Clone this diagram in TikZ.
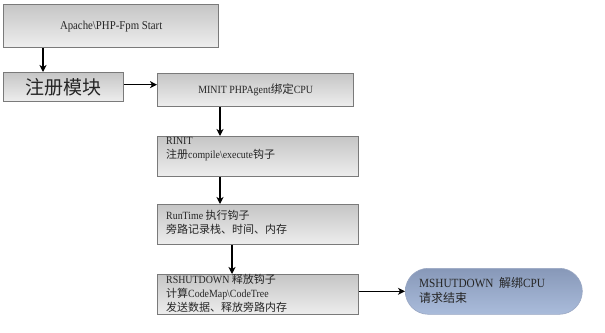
\documentclass[tikz,border=0pt]{standalone}
\usepackage{fontspec}
\setmainfont{Liberation Serif}[FakeStretch=0.9]
\newfontfamily\cjk{Noto Sans CJK SC}
\usetikzlibrary{arrows.meta,calc}
\definecolor{txt}{HTML}{262626}
\definecolor{bord}{HTML}{7A7A7A}
\definecolor{gtop}{HTML}{C6C6C6}
\definecolor{gbot}{HTML}{EEEEEE}
\definecolor{btop}{HTML}{8798B8}
\definecolor{bbot}{HTML}{AABCDB}
\tikzset{
  box/.style={draw=bord,line width=1.3pt,top color=gtop,bottom color=gbot,
    anchor=north west,inner sep=0pt,text=txt},
  lbl/.style={anchor=north west,inner sep=0pt,align=left,text=txt,
    font=\fontsize{11}{13.6}\selectfont},
  arr/.style={line width=1.4pt,-{Stealth[length=7pt,width=7pt,inset=2pt]}},
}
\begin{document}
\begin{tikzpicture}[x=1pt,y=-1pt]
\useasboundingbox[fill=white] (0,0) rectangle (605,332);
% boxes
\node[box,minimum width=215pt,minimum height=43pt,
  font=\fontsize{12}{14}\selectfont] (A) at (3,4) {Apache\textbackslash PHP-Fpm Start};
\node[box,minimum width=120pt,minimum height=29pt,
  font=\fontsize{19}{22}\selectfont\cjk] (B) at (3,72) {注册模块};
\node[box,minimum width=196pt,minimum height=33pt,
  font=\fontsize{11}{13}\selectfont] (C) at (157,73) {MINIT PHPAgent{\fontsize{11.5}{13}\cjk 绑定}CPU};
\node[box,minimum width=201pt,minimum height=40pt] (D) at (157,136) {};
\node[box,minimum width=201pt,minimum height=40pt] (E) at (157,204) {};
\node[box,minimum width=201pt,minimum height=40pt] (F) at (157,274) {};
\node[draw=btop!85!white,line width=0.6pt,top color=btop,bottom color=bbot,
  rounded corners=23pt,anchor=north west,inner sep=0pt,
  minimum width=177pt,minimum height=46pt] (G) at (405,268) {};
% texts
\node[lbl] (dt) at (166,137) {RINIT\\{\cjk 注册}compile\textbackslash execute{\cjk 钩子}};
\node[lbl] (et) at (166,210) {RunTime {\cjk 执行钩子}\\{\cjk 旁路记录栈、时间、内存}};
\node[lbl] (ft) at (166,274.5) {RSHUTDOWN {\cjk 释放钩子}\\{\cjk 计算}CodeMap\textbackslash CodeTree\\{\cjk 发送数据、释放旁路内存}};
\node[lbl,font=\fontsize{12.5}{15}\selectfont] (gt) at (419,277) {MSHUTDOWN\ \ {\fontsize{12}{15}\cjk 解绑}CPU\\{\fontsize{12}{15}\cjk 请求结束}};
% arrows
\draw[arr] ([xshift=40pt]A.south west) -- ([xshift=40pt]B.north west);
\draw[arr] ([yshift=2.5pt]B.east) -- ([yshift=2.5pt]B.east -| C.west);
\draw[arr] ([xshift=63pt]C.south west) -- ([xshift=63pt]C.south west |- D.north);
\draw[arr] ([xshift=63pt]D.south west) -- ([xshift=63pt]D.south west |- E.north);
\draw[arr] ([xshift=75pt]E.south west) -- ([xshift=75pt]E.south west |- F.north);
\draw[arr] (G.west -| F.east) -- (G.west);
\end{tikzpicture}
\end{document}
